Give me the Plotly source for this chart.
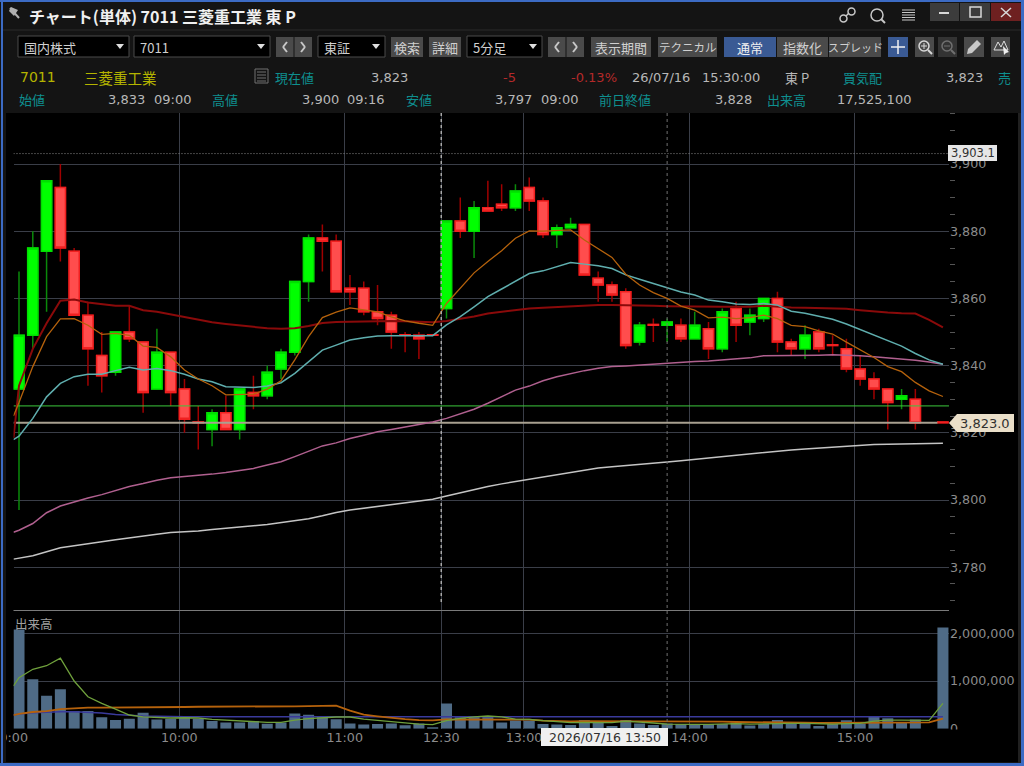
import plotly.graph_objects as go

# 5 minute bars, 15:25 has no trade
bar_idx = list(range(66)) + [67]
opens = [3833,3849,3874,3893,3874,3855,3843,3838,3850,3847,
         3833,3844,3833,3823.2,3821,3826,3821,3832,3831,3839,
         3844,3865,3878,3877,3863,3863,3856,3855,3849.2,3849,
         3849.2,3857,3883,3880,3887,3888,3887,3893,3889,3879,
         3881,3882,3866,3864,3862,3847,3852.2,3852,3852,3848,
         3851,3845,3857,3853,3854,3860,3847,3845,3850,3846.2,
         3845,3839,3836,3833,3830,3830,3823.2]
closes = [3849,3875,3895,3875,3855,3845,3837,3850,3848,3832,
          3844,3832,3824,3823,3826,3821,3833,3831,3838,3844,
          3865,3878,3877,3862,3862,3856,3854,3850,3849,3848,
          3849,3883,3880,3887,3886,3887,3892,3889,3879,3881,
          3882,3867,3864,3861,3846,3852,3852,3853,3848,3852,
          3845,3856,3852,3855,3860,3847,3845,3849,3845,3846,
          3839,3836,3833,3829,3831,3823,3823]
highs = [3868,3880,3895,3900,3875,3859,3850,3850,3858,3847,
         3851,3844,3836,3828,3827,3831,3833,3837,3840,3845,
         3865,3879,3882,3879,3867,3865,3864,3856,3850,3850,
         3849.2,3883,3890,3889,3895,3894,3894,3896,3890,3882,
         3884,3882,3868,3865,3863,3853,3854,3854,3854,3856,
         3853,3857,3859,3857,3860,3862,3848,3852,3851,3849,
         3848,3843,3838,3833,3833,3833,3823.2]
lows = [3797,3845,3856,3871,3855,3834,3832,3837,3847,3826,
        3833,3828,3820,3815,3816,3821,3818,3827,3830,3836,
        3843,3859,3868,3862,3858,3855,3852,3845,3844,3842,
        3849,3854,3878,3872,3886,3886,3886,3886,3878,3875,
        3881,3867,3859,3859,3845,3846,3847,3847,3847,3848,
        3842,3844,3847,3849,3853,3844,3843,3842,3844,3843,
        3838,3834,3830,3821,3827,3821,3823]
volumes = [2080000,1035000,690000,825000,370000,370000,240000,180000,210000,335000,
           195000,210000,250000,210000,160000,130000,130000,160000,105000,130000,
           320000,290000,265000,200000,110000,90000,100000,110000,70000,110000,
           30000,530000,240000,250000,250000,130000,170000,170000,100000,90000,
           80000,180000,160000,55000,180000,110000,80000,110000,100000,100000,
           100000,100000,130000,65000,100000,180000,100000,100000,55000,100000,
           175000,110000,265000,220000,125000,195000,2120000]

# averages start at the left edge of the plot
line_idx = [-0.4] + list(range(68))
ma_orange = [3825,3829,3839.7,3848.6,3853.9,3854,3852,3849.3,3849.6,3849,
             3845.8,3845.4,3842.6,3838.7,3836,3834,3831.3,3831.4,3831.5,3833,
             3835.5,3841.7,3848.6,3854.3,3855.9,3857.2,3856.7,3856,3854.5,3853.3,
             3852.6,3852,3858.5,3863,3867.6,3871,3874.2,3877.9,3880.1,3880,
             3880.2,3880.4,3877.4,3874.9,3872.2,3867.2,3864,3861.7,3860,3857.7,
             3856.5,3854.2,3854.4,3854,3854.3,3855,3854,3852,3851.6,3850.3,
             3849.4,3847,3844.6,3842.4,3839.7,3838.2,3835,3832.5,3830.8]
ma_teal = [3818,3819,3824.3,3830.7,3834.7,3836.7,3837.4,3837.4,3838.5,3839.5,
           3838.7,3839.1,3838.5,3837.4,3836,3835.2,3833.7,3833.5,3833.5,3833.9,
           3834.9,3837.7,3841.2,3844.6,3846.1,3847.6,3848.3,3848.8,3848.9,3848.9,
           3848.9,3848.9,3852.1,3854.6,3857.5,3860.5,3862.8,3865.2,3867.4,3868.2,
           3869.4,3870.7,3870.2,3869.7,3868.9,3867,3865.7,3864.5,3863.3,3861.9,
           3861,3859.5,3859,3858.3,3858.2,3858.5,3858,3856.2,3855.6,3854.6,
           3853.8,3852.4,3850.8,3849.1,3847.4,3845.8,3843.6,3841.7,3840.4]
ma_red = [3818.4,3834,3845,3852.6,3859.3,3859.7,3858.8,3858.2,3857.8,3857.8,
          3856.5,3856,3855.2,3854.3,3853.5,3852.9,3852.4,3852,3851.6,3851.1,
          3851,3851.1,3851.8,3852.7,3853,3853.1,3853.1,3853.3,3853.3,3853.2,
          3853,3852.9,3853.3,3853.9,3854.6,3855.5,3856,3856.5,3857,3857.2,
          3857.4,3857.7,3857.9,3858,3858,3858,3858,3857.8,3857.7,3857.6,
          3857.6,3857.5,3857.5,3857.5,3857.5,3857.8,3857.5,3857.3,3857.2,3857.1,
          3857,3856.9,3856.5,3856.1,3855.8,3855.6,3855.5,3853.6,3851.4]
ma_pink = [3790.4,3791,3793,3796.2,3798.2,3799.5,3800.6,3801.6,3802.8,3804,
           3804.9,3805.9,3806.6,3806.9,3807.3,3807.7,3808.2,3808.7,3809.4,3810.4,
           3811.4,3812.9,3814.4,3816.1,3817,3818.3,3819.3,3820.3,3821,3821.8,
           3822.5,3823.2,3824.3,3825.6,3827,3828.8,3830.8,3832.7,3833.9,3835.5,
           3836.7,3837.7,3838.5,3839.2,3839.7,3839.9,3840.2,3840.4,3840.7,3840.9,
           3841.2,3841.4,3841.7,3842,3842.3,3842.9,3842.9,3842.9,3843,3843.1,
           3843.2,3843.1,3842.9,3842.6,3842.3,3842,3841.6,3841.1,3840.4]
ma_white = [3782.4,3782.7,3783.4,3784.6,3785.8,3786.4,3786.9,3787.6,3788.2,3788.8,
            3789.3,3789.8,3790.3,3790.5,3790.8,3791.2,3791.5,3791.9,3792.3,3792.7,
            3793.2,3793.9,3794.4,3795.3,3796.3,3797,3797.5,3798,3798.5,3799,
            3799.6,3800.2,3801.2,3802.2,3803.1,3804,3804.8,3805.5,3806.1,3806.9,
            3807.6,3808.3,3808.9,3809.5,3809.9,3810.2,3810.6,3810.9,3811.3,3811.7,
            3812.1,3812.5,3812.9,3813.3,3813.9,3814.2,3814.6,3814.9,3815.2,3815.5,
            3815.8,3816.1,3816.3,3816.5,3816.6,3816.7,3816.8,3816.8,3816.9]

vol_green = [895000,1070000,1245000,1320000,1480000,1000000,670000,530000,410000,287000,
             250000,240000,224000,230000,224000,196000,180000,168000,154000,133000,
             133000,180000,210000,230000,245000,245000,200000,175000,147000,119000,
             98000,84000,168000,217000,250000,266000,250000,200000,196000,168000,
             140000,126000,133000,133000,126000,160000,147000,119000,98000,90000,
             90000,90000,98000,105000,98000,105000,119000,112000,112000,98000,
             98000,105000,112000,160000,180000,180000,180000,175000,530000]
vol_orange = [287000,310000,350000,370000,410000,427000,440000,440000,440000,447000,
              455000,455000,455000,455000,460000,460000,455000,455000,455000,460000,
              470000,470000,475000,475000,482000,378000,294000,260000,224000,200000,
              180000,175000,196000,196000,203000,196000,196000,196000,190000,168000,
              160000,154000,160000,160000,160000,160000,154000,147000,147000,147000,
              147000,147000,147000,140000,140000,133000,133000,126000,126000,119000,
              119000,119000,126000,133000,133000,133000,133000,133000,210000]
vol_blue = [287000,310000,336000,350000,357000,357000,343000,330000,300000,280000,
            266000,260000,252000,252000,252000,252000,252000,252000,252000,252000,
            252000,252000,252000,252000,252000,252000,252000,252000,252000,252000,
            252000,252000,252000,252000,252000,252000,252000,252000,252000,252000,
            252000,252000,252000,252000,252000,252000,252000,252000,252000,252000,
            252000,252000,252000,252000,252000,252000,252000,252000,252000,252000,
            252000,252000,252000,252000,252000,252000,252000,260000,252000]

tick_bars = [0, 12, 24, 31, 37, 49, 61]
tick_labels = ["9:00", "10:00", "11:00", "12:30", "13:00", "14:00", "15:00"]
tick_offset = -0.38  # grid sits at the left side of the bar

prev_close = 3828
last_price = 3823
crosshair_price = 3903.1
crosshair_bar = 47

W, H = 1024, 766
BODY_FONT = "DejaVu Sans, Noto Sans CJK JP"
JP_FONT = "Noto Sans CJK JP"
TEAL = "#0E8F8F"
GREY = "#B8B8B8"
YELLOW = "#B4B400"
RED_TXT = "#B52A2A"
BTN = "#4A4A4A"
BLUE_BTN = "#3A5A94"


def px(x):
    return x / W


def py(y):
    return 1 - y / H


shapes = []
notes = []


def box(x0, y0, x1, y1, fill="rgba(0,0,0,0)", line=None, width=1, layer="above"):
    shapes.append(dict(type="rect", xref="paper", yref="paper", x0=px(x0), x1=px(x1), y0=py(y0), y1=py(y1),
                       fillcolor=fill, line=dict(color=line, width=width if line else 0), layer=layer))


def seg(x0, y0, x1, y1, color="#C8C8C8", width=1, dash="solid"):
    shapes.append(dict(type="line", xref="paper", yref="paper", x0=px(x0), x1=px(x1), y0=py(y0), y1=py(y1),
                       line=dict(color=color, width=width, dash=dash), layer="above"))


def circle(x0, y0, x1, y1, color="#C8C8C8", width=1.5):
    shapes.append(dict(type="circle", xref="paper", yref="paper", x0=px(x0), x1=px(x1), y0=py(y0), y1=py(y1),
                       line=dict(color=color, width=width), layer="above"))


def poly(points, fill="#E0E0E0", line=None):
    p = "M " + " L ".join(f"{px(x):.5f},{py(y):.5f}" for x, y in points) + " Z"
    shapes.append(dict(type="path", xref="paper", yref="paper", path=p, fillcolor=fill,
                       line=dict(color=line, width=1 if line else 0), layer="above"))


def label(x, y, text, color=GREY, size=13, anchor="left", font=BODY_FONT):
    notes.append(dict(x=px(x), y=py(y), xref="paper", yref="paper", text=text, showarrow=False,
                      xanchor=anchor, yanchor="middle", borderpad=0, font=dict(color=color, size=size, family=font)))


def button(x0, x1, text, fill=BTN, color="#D0D0D0", size=13):
    box(x0, 37, x1, 57, fill=fill)
    label((x0 + x1) / 2, 47, text, color=color, size=size, anchor="center", font=JP_FONT)


def combo(x0, x1, text):
    box(x0, 36, x1, 57, fill="#000000", line="#4A4A4A")
    label(x0 + 5, 47, text, color="#D0D0D0", font=JP_FONT)
    poly([(x1 - 13, 44), (x1 - 5, 44), (x1 - 9, 49)])


def arrows(x0, x1):
    mid = (x0 + x1) / 2
    box(x0, 37, mid - 0.5, 57, fill=BTN)
    box(mid + 0.5, 37, x1, 57, fill=BTN)
    seg(x0 + 11, 42, x0 + 7, 47, width=2)
    seg(x0 + 7, 47, x0 + 11, 52, width=2)
    seg(x1 - 11, 42, x1 - 7, 47, width=2)
    seg(x1 - 7, 47, x1 - 11, 52, width=2)


# window frame and black chart area
box(5, 113, 1018, 762, fill="#000000", layer="below")

# title bar
label(28, 16, "<b>チャート(単体) 7011 三菱重工業 東 P</b>", color="#F0F0F0", size=16, font=JP_FONT)
seg(10, 8, 19, 18, color="#B0B0B0", width=2)
poly([(11, 7), (18, 10), (14, 16), (9, 11)], fill="#B0B0B0")
seg(3, 30, 1021, 30, color="#2A2A2A")
circle(840, 15, 847, 22)
circle(848, 8, 855, 15)
seg(846, 16, 849, 13, width=1.5)
circle(871, 9, 883, 21)
seg(881, 19, 885, 23, width=2)
for yy in [10, 12.5, 15, 17.5, 20]:
    seg(902, yy, 915, yy, width=1)
box(930, 3, 959, 21, fill="#3C3C3C")
box(960, 3, 990, 21, fill="#3C3C3C")
box(991, 3, 1021, 21, fill="#6E2020")
seg(939, 13, 949, 13, color="#D8D8D8", width=2)
box(970, 7, 981, 17, line="#D8D8D8", width=1.5)
seg(1001, 8, 1011, 17, color="#D8D8D8", width=1.5)
seg(1011, 8, 1001, 17, color="#D8D8D8", width=1.5)

# toolbar
combo(18, 129, "国内株式")
combo(134, 270, "7011")
arrows(276, 312)
combo(318, 385, "東証")
button(391, 423, "検索")
button(429, 461, "詳細")
combo(467, 542, "5分足")
arrows(548, 584)
button(591, 651, "表示期間")
button(658, 717, "テクニカル", size=11.5)
button(724, 776, "通常", fill=BLUE_BTN, color="#F0F0F0")
button(777, 828, "指数化")
button(829, 881, "スプレッド", size=11)
box(888, 37, 908, 57, fill=BLUE_BTN)
seg(898, 40, 898, 54, color="#F0F0F0", width=1.5)
seg(891, 47, 905, 47, color="#F0F0F0", width=1.5)
box(915, 37, 934, 57, fill=BTN)
circle(919, 41, 929, 51, color="#D8D8D8")
seg(921, 46, 927, 46, color="#D8D8D8")
seg(924, 43, 924, 49, color="#D8D8D8")
seg(928, 50, 932, 54, color="#D8D8D8", width=2)
box(938, 37, 957, 57, fill="#333333")
circle(942, 41, 952, 51, color="#707070")
seg(944, 46, 950, 46, color="#707070")
seg(951, 50, 955, 54, color="#707070", width=2)
box(964, 37, 984, 57, fill=BTN)
poly([(967, 54), (968, 49), (977, 40), (981, 44), (972, 53)], fill="#C8C8C8")
box(991, 37, 1010, 57, fill=BTN)
poly([(994, 50), (998, 42), (1001, 47), (1004, 41), (1008, 50)], fill="rgba(0,0,0,0)", line="#E0E0E0")
poly([(1003, 46), (1009, 52), (1006, 53), (1004, 55)], fill="#F0F0F0")

# quote rows
label(19, 77, "7011", color=YELLOW, size=14)
label(83, 77, "三菱重工業", color=YELLOW, size=14.5, font=JP_FONT)
box(255, 69, 268, 83, line="#707070")
for yy in [72, 75, 78, 81]:
    seg(257, yy, 266, yy, color="#707070")
label(274, 77, "現在値", color=TEAL, font=JP_FONT)
label(409, 77, "3,823", anchor="right")
label(517, 77, "-5", color=RED_TXT, anchor="right")
label(618, 77, "-0.13%", color=RED_TXT, anchor="right")
label(631, 77, "26/07/16")
label(701, 77, "15:30:00")
label(784, 77, "東 P", font=JP_FONT)
label(842, 77, "買気配", color=TEAL, font=JP_FONT)
label(984, 77, "3,823", anchor="right")
label(997, 77, "売", color=TEAL, font=JP_FONT)

label(18, 100, "始値", color=TEAL, font=JP_FONT)
label(146, 100, "3,833", anchor="right")
label(153, 100, "09:00")
label(211, 100, "高値", color=TEAL, font=JP_FONT)
label(340, 100, "3,900", anchor="right")
label(346, 100, "09:16")
label(405, 100, "安値", color=TEAL, font=JP_FONT)
label(533, 100, "3,797", anchor="right")
label(540, 100, "09:00")
label(598, 100, "前日終値", color=TEAL, font=JP_FONT)
label(753, 100, "3,828", anchor="right")
label(766, 100, "出来高", color=TEAL, font=JP_FONT)
label(912, 100, "17,525,100", anchor="right")

# chart overlays
seg(13.5, 610.5, 949, 610.5, color="#7A7A7A")
label(14, 623, "出来高", color="#A0A0A0", size=12.5, font=JP_FONT)
for xref_val, y0, y1, color, width, dash in [
    (tick_bars[3] + tick_offset, 113, 605, "#A8A8A8", 1.5, "dot"),
    (crosshair_bar, 113, 728, "#707070", 1, "dot"),
]:
    shapes.append(dict(type="line", xref="x", yref="paper", x0=xref_val, x1=xref_val, y0=py(y0), y1=py(y1),
                       line=dict(color=color, width=width, dash=dash), layer="above"))

box(948, 145, 997, 161, fill="#E6E6E6")
label(950, 153, f"{crosshair_price:,.1f}", color="#303030", size=11.5)
poly([(949, 423), (957, 414), (1014, 414), (1014, 432), (957, 432)], fill="#EADFC9")
label(959, 423, f"{last_price:,.1f}", color="#303030", size=13)
box(541, 728, 668, 746, fill="#F0F0F0")
label(604.5, 737, "2026/07/16 13:50", color="#303030", size=12.5, anchor="center")

# hide bottom of the 0 label and the left part of the 9:00 label
box(950, 729.5, 1016, 735, fill="#000000")
box(0, 113, 6, 766, fill="#141414")

# window border
box(1, 0, 3, 766, fill="#3C6BC4")
box(0, 0, 1024, 2, fill="#3C6BC4")
box(1021, 0, 1024, 766, fill="#3C6BC4")
box(0, 763, 1024, 766, fill="#3C6BC4")
box(1018, 113, 1021, 763, fill="#202020")

fig = go.Figure()

# wicks get a darker colour than the bodies so they are two traces
fig.add_trace(go.Candlestick(
    x=bar_idx, open=opens, high=highs, low=lows, close=closes,
    increasing=dict(line=dict(color="#0A8A0A", width=1.5), fillcolor="rgba(0,0,0,0)"),
    decreasing=dict(line=dict(color="#A00000", width=1.5), fillcolor="rgba(0,0,0,0)"),
    whiskerwidth=0, showlegend=False, hoverinfo="skip",
))
fig.add_trace(go.Candlestick(
    x=bar_idx, open=opens, close=closes,
    high=[max(o, c) for o, c in zip(opens, closes)],
    low=[min(o, c) for o, c in zip(opens, closes)],
    increasing=dict(line=dict(color="#00E000", width=1.5), fillcolor="#00FF00"),
    decreasing=dict(line=dict(color="#F02020", width=1.5), fillcolor="#FF4D4D"),
    whiskerwidth=0, showlegend=False, hoverinfo="skip",
))

fig.add_trace(go.Scatter(x=[-0.4, 67.44], y=[prev_close, prev_close], mode="lines",
                         line=dict(color="#3CC83C", width=1), showlegend=False, hoverinfo="skip"))
fig.add_trace(go.Scatter(x=[-0.4, 66.6], y=[last_price, last_price], mode="lines",
                         line=dict(color="#A8A090", width=2), showlegend=False, hoverinfo="skip"))
fig.add_trace(go.Scatter(x=[-0.4, 67.44], y=[crosshair_price, crosshair_price], mode="lines",
                         line=dict(color="#8A8A8A", width=1, dash="1px,2px"), showlegend=False, hoverinfo="skip"))

for series, color, width in [
    (ma_white, "#C4C4C4", 1.5),
    (ma_pink, "#B0608F", 1.5),
    (ma_red, "#8A0A0A", 2),
    (ma_teal, "#5FAEAE", 1.5),
    (ma_orange, "#B5620C", 1.3),
]:
    fig.add_trace(go.Scatter(x=line_idx, y=series, mode="lines", line=dict(color=color, width=width),
                             showlegend=False, hoverinfo="skip"))

fig.add_trace(go.Bar(x=bar_idx, y=volumes, width=0.8, marker=dict(color="#4F6B86", line=dict(width=0)),
                     xaxis="x2", yaxis="y2", showlegend=False, hoverinfo="skip"))
for series, color, width in [
    (vol_blue, "#3A3A9C", 1.5),
    (vol_orange, "#B5620C", 1.8),
    (vol_green, "#6FA03C", 1.3),
]:
    fig.add_trace(go.Scatter(x=line_idx, y=series, mode="lines", line=dict(color=color, width=width),
                             xaxis="x2", yaxis="y2", showlegend=False, hoverinfo="skip"))

grid = "#3A3E48"
tick_font = dict(color="#8C8C8C", size=12.7, family="DejaVu Sans")
tick_pos = [b + tick_offset for b in tick_bars]
x_range = [-0.399, 67.44]
x_domain = [px(13.5), px(949)]

fig.update_layout(
    width=W, height=H, margin=dict(l=0, r=0, t=0, b=0), autosize=False,
    paper_bgcolor="#141414", plot_bgcolor="#000000",
    showlegend=False, boxmode="overlay", boxgap=0.26, boxgroupgap=0, bargap=0.2, barmode="overlay",
    shapes=shapes, annotations=notes,
    xaxis=dict(domain=x_domain, range=x_range, anchor="y", tickmode="array", tickvals=tick_pos,
               ticktext=tick_labels, showticklabels=False, ticks="", showgrid=True, gridcolor=grid,
               gridwidth=1, zeroline=False, automargin=False, rangeslider=dict(visible=False)),
    yaxis=dict(domain=[py(610), py(113)], range=[3767.26, 3915.18], anchor="x", side="right",
               tick0=3780, dtick=20, tickformat=",d", tickfont=tick_font, ticks="", showgrid=True,
               gridcolor=grid, gridwidth=1, zeroline=False, automargin=False,
               minor=dict(dtick=5, tick0=3780, ticks="outside", ticklen=5, tickcolor="#555555", showgrid=False)),
    xaxis2=dict(domain=x_domain, range=x_range, anchor="y2", tickmode="array", tickvals=tick_pos,
                ticktext=tick_labels, tickfont=tick_font, tickangle=0, ticks="", showgrid=True,
                gridcolor=grid, gridwidth=1, zeroline=False, automargin=False, ticklabeloverflow="allow"),
    yaxis2=dict(domain=[py(728.7), py(610.5)], range=[0, 2478000], anchor="x2", side="right",
                tickmode="array", tickvals=[0, 1000000, 2000000], tickformat=",d", tickfont=tick_font,
                ticks="", showgrid=True, gridcolor=grid, gridwidth=1, zeroline=False, automargin=False),
)

fig.write_html("out.html", config=dict(displayModeBar=False),
               post_script="document.body.style.margin='0';document.body.style.overflow='hidden';")
